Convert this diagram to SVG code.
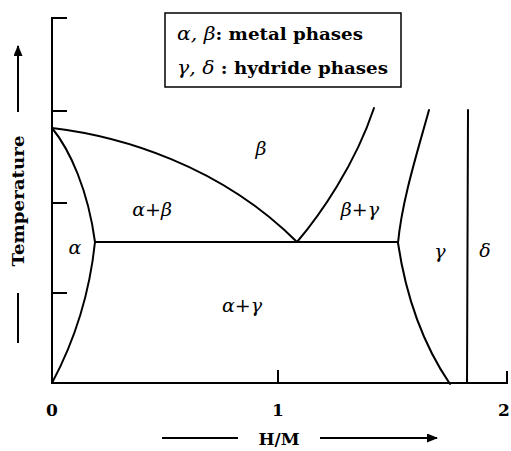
<svg xmlns="http://www.w3.org/2000/svg" width="511" height="451" viewBox="0 0 511 451">
<defs>
<marker id="ah" markerWidth="11" markerHeight="9" refX="10" refY="4.5" orient="auto" markerUnits="userSpaceOnUse">
<path d="M0,0 L11,4.5 L0,9 Z" fill="#000"/>
</marker>
<style>
.ln{fill:none;stroke:#000;stroke-width:2;stroke-linecap:round;stroke-linejoin:round}
.ax{fill:none;stroke:#000;stroke-width:2}
.ph{font-family:'DejaVu Serif','Liberation Serif',serif;font-style:italic;font-size:19px;fill:#000}
.bd{font-family:'DejaVu Serif','Liberation Serif',serif;font-weight:bold;font-size:17px;fill:#000}
</style>
</defs>
<rect width="511" height="451" fill="#fff"/>
<g id="axes">
<path class="ax" d="M67,18 H52 V383 H507 V371"/>
<path class="ax" d="M52,111 H67 M52,203 H67 M52,293 H67 M278,383 V370"/>
<text class="bd" x="52" y="416" text-anchor="middle" font-size="18">0</text>
<text class="bd" x="278" y="416" text-anchor="middle" font-size="18">1</text>
<text class="bd" x="504" y="416" text-anchor="middle" font-size="18">2</text>
</g>
<g id="connectors">
<path class="ln" d="M52,128 C120,136 220,165 297,242"/>
<path class="ln" d="M52,128 C70,150 88,190 95,242"/>
<path class="ln" d="M95,242 C90,290 75,340 52,383"/>
<path class="ln" d="M95,242 H398"/>
<path class="ln" d="M297,242 C320,215 355,165 374,108"/>
<path class="ln" d="M429,110 C418,150 402,200 398,243"/>
<path class="ln" d="M398,243 C405,290 420,340 450,384"/>
<path class="ln" d="M468,110 L467,383"/>
</g>
<g id="labels">
<text class="ph" x="261" y="155" text-anchor="middle">β</text>
<text class="ph" x="152" y="216" text-anchor="middle">α+β</text>
<text class="ph" x="360" y="216" text-anchor="middle">β+γ</text>
<text class="ph" x="75" y="254" text-anchor="middle">α</text>
<text class="ph" x="242" y="312" text-anchor="middle">α+γ</text>
<text class="ph" x="440" y="258" text-anchor="middle">γ</text>
<text class="ph" x="485" y="257" text-anchor="middle">δ</text>
</g>
<g id="legend">
<rect x="165" y="13" width="236" height="74" fill="none" stroke="#000" stroke-width="1.5"/>
<text x="177" y="40" textLength="186" lengthAdjust="spacingAndGlyphs"><tspan class="ph">α, β</tspan><tspan class="bd">: metal phases</tspan></text>
<text x="177" y="74" textLength="211" lengthAdjust="spacingAndGlyphs"><tspan class="ph">γ, δ</tspan><tspan class="bd"> : hydride phases</tspan></text>
</g>
<g id="ylabel">
<path class="ax" d="M18,112 V46" marker-end="url(#ah)"/>
<path class="ax" d="M18,293 V343"/>
<text class="bd" transform="translate(24,201) rotate(-90)" text-anchor="middle" textLength="131" lengthAdjust="spacingAndGlyphs">Temperature</text>
</g>
<g id="xlabel">
<path class="ax" d="M162,438 H238"/>
<text class="bd" x="279" y="445" text-anchor="middle" font-size="19">H/M</text>
<path class="ax" d="M320,438 H437" marker-end="url(#ah)"/>
</g>
</svg>
